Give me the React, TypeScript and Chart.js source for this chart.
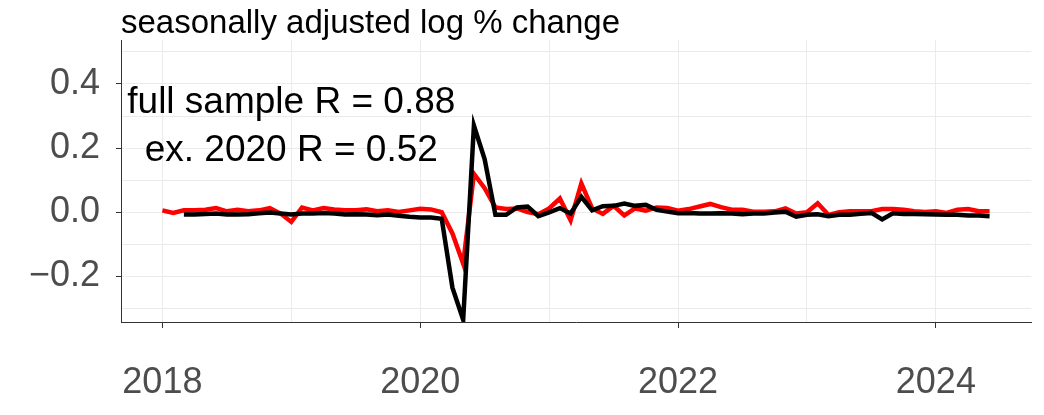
import React, { useRef, useEffect } from 'react';
import { Chart, registerables } from 'chart.js';

Chart.register(...registerables);

// monthly series, both end 2024-06
const redStart = 2018; // first month 2018-01
const redValues = [
  0.006, -0.002, 0.006, 0.006, 0.008, 0.013, 0.003, 0.008, 0.003, 0.006, 0.013, -0.004,
  -0.03, 0.015, 0.006, 0.013, 0.009, 0.006, 0.006, 0.009, 0.003, 0.006, 0.001, 0.006,
  0.011, 0.009, 0.0, -0.066, -0.16, 0.12, 0.075, 0.015, 0.01, 0.012, 0.001, -0.006,
  0.012, 0.043, -0.025, 0.09, 0.012, -0.005, 0.02, -0.01, 0.012, 0.005, 0.015, 0.013,
  0.005, 0.01, 0.018, 0.026, 0.016, 0.008, 0.008, 0.002, 0.002, 0.003, 0.012, -0.004,
  0.0, 0.028, -0.008, 0.0, 0.003, 0.003, 0.003, 0.01, 0.01, 0.008, 0.003, 0.001,
  0.003, -0.002, 0.008, 0.01, 0.003, 0.003,
];
const blackStart = 2018 + 2 / 12; // first month 2018-03
const blackValues = [
  -0.007, -0.007, -0.005, -0.004, -0.007, -0.007, -0.006, -0.003, -0.001, -0.004,
  -0.007, -0.004, -0.004, -0.002, -0.004, -0.007, -0.006, -0.007, -0.009, -0.007, -0.011, -0.014,
  -0.016, -0.016, -0.02, -0.235, -0.335, 0.27, 0.165, -0.008, -0.008, 0.015, 0.018, -0.012,
  0.0, 0.013, -0.004, 0.048, 0.006, 0.019, 0.02, 0.027, 0.02, 0.023, 0.008, 0.002,
  -0.003, -0.002, -0.004, -0.004, -0.003, -0.004, -0.006, -0.004, -0.004, -0.001, 0.002, -0.014,
  -0.008, -0.006, -0.012, -0.008, -0.008, -0.005, -0.002, -0.022, -0.003, -0.005, -0.005, -0.006,
  -0.007, -0.008, -0.008, -0.01, -0.01, -0.012,
];

const xTicks = [2018, 2019, 2020, 2021, 2022, 2023, 2024];
const xLabelled = [2018, 2020, 2022, 2024];
const yTicks = [-0.3, -0.2, -0.1, 0, 0.1, 0.2, 0.3, 0.4, 0.5];
const yLabelled = [-0.2, 0, 0.2, 0.4];

const titleText = 'seasonally adjusted log % change';
const noteLines = ['full sample R = 0.88', 'ex. 2020 R = 0.52'];
const noteX = 2019;
const noteY = [0.342, 0.192];

const FONT = '"Liberation Sans", Arial, sans-serif';
const GRID = '#EBEBEB';
const AXIS = '#333333';

const toPoints = (start: number, values: number[]) =>
  values.map((v, i) => ({ x: start + i / 12, y: v }));

const isIn = (list: number[], v: number) => list.some((t) => Math.abs(t - v) < 1e-9);

const textPlugin = {
  id: 'textPlugin',
  afterDraw(chart: Chart) {
    const { ctx, chartArea, scales } = chart;
    ctx.save();
    ctx.fillStyle = '#000000';
    ctx.font = `33px ${FONT}`;
    ctx.textAlign = 'left';
    ctx.textBaseline = 'alphabetic';
    ctx.fillText(titleText, chartArea.left, 33);
    ctx.font = `37px ${FONT}`;
    ctx.textAlign = 'center';
    ctx.textBaseline = 'middle';
    noteLines.forEach((line, i) => {
      ctx.fillText(line, scales.x.getPixelForValue(noteX), scales.y.getPixelForValue(noteY[i]));
    });
    ctx.restore();
  },
};

const App: React.FC = () => {
  const chartRef = useRef<HTMLCanvasElement>(null);
  const chartInstanceRef = useRef<Chart | null>(null);

  useEffect(() => {
    document.body.style.margin = '0';
    if (chartRef.current) {
      const ctx = chartRef.current.getContext('2d');
      if (ctx) {
        if (chartInstanceRef.current) {
          chartInstanceRef.current.destroy();
        }
        chartInstanceRef.current = new Chart(ctx, {
          type: 'line',
          data: {
            datasets: [
              {
                label: 'black',
                data: toPoints(blackStart, blackValues),
                borderColor: '#000000',
                borderWidth: 4.5,
                pointRadius: 0,
                tension: 0,
              },
              {
                label: 'red',
                data: toPoints(redStart, redValues),
                borderColor: '#FF0000',
                borderWidth: 4.5,
                pointRadius: 0,
                tension: 0,
              },
            ],
          },
          options: {
            animation: false,
            responsive: true,
            maintainAspectRatio: false,
            layout: { padding: { top: 40, right: 13, left: 0, bottom: 0 } },
            plugins: {
              legend: { display: false },
              tooltip: { enabled: false },
              title: { display: false },
            },
            scales: {
              x: {
                type: 'linear',
                min: 2017.679,
                max: 2024.738,
                afterBuildTicks: (axis: any) => {
                  axis.ticks = xTicks.map((v) => ({ value: v }));
                },
                afterFit: (scale: any) => {
                  scale.height = 93;
                },
                border: { display: true, color: AXIS, width: 1 },
                grid: {
                  color: GRID,
                  lineWidth: 1,
                  tickLength: 6,
                  tickColor: (c: any) => (isIn(xLabelled, c.tick.value) ? AXIS : 'transparent'),
                },
                ticks: {
                  autoSkip: false,
                  maxRotation: 0,
                  padding: 33,
                  color: '#4D4D4D',
                  font: { family: FONT, size: 36 },
                  callback: (v: any) => (isIn(xLabelled, Number(v)) ? String(v) : ''),
                },
              },
              y: {
                type: 'linear',
                min: -0.342,
                max: 0.537,
                afterBuildTicks: (axis: any) => {
                  axis.ticks = yTicks.map((v) => ({ value: v }));
                },
                afterFit: (scale: any) => {
                  scale.width = 121;
                },
                border: { display: true, color: AXIS, width: 1 },
                grid: {
                  color: GRID,
                  lineWidth: 1,
                  tickLength: 5,
                  tickColor: (c: any) => (isIn(yLabelled, c.tick.value) ? AXIS : 'transparent'),
                },
                ticks: {
                  autoSkip: false,
                  padding: 16,
                  color: '#4D4D4D',
                  font: { family: FONT, size: 36 },
                  callback: (v: any) => {
                    const n = Number(v);
                    if (!isIn(yLabelled, n)) return '';
                    const s = Math.abs(n).toFixed(1);
                    return n < -1e-9 ? '\u2212' + s : s;
                  },
                },
              },
            },
          },
          plugins: [textPlugin],
        });
      }
    }

    return () => {
      if (chartInstanceRef.current) {
        chartInstanceRef.current.destroy();
      }
    };
  }, []);

  return (
    <div style={{ width: '1044px', height: '415px', background: '#ffffff' }}>
      <canvas ref={chartRef} />
    </div>
  );
};

export default App;
